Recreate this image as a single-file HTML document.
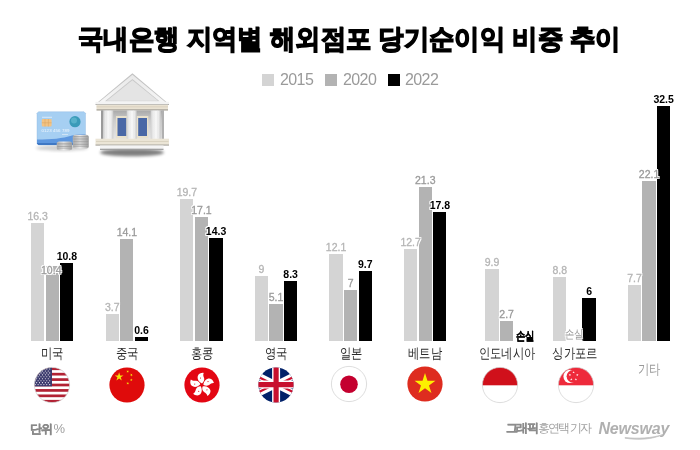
<!DOCTYPE html>
<html><head><meta charset="utf-8"><style>
html,body{margin:0;padding:0;background:#fff;}
body{width:700px;height:450px;position:relative;overflow:hidden;will-change:transform;font-family:"Liberation Sans",sans-serif;}
.b{position:absolute;}
.lb{position:absolute;width:40px;text-align:center;font-size:10.5px;line-height:10.5px;white-space:nowrap;
 text-shadow:-1px -1px 0 #fff,1px -1px 0 #fff,-1px 1px 0 #fff,1px 1px 0 #fff,0 -1px 0 #fff,0 1px 0 #fff,-1px 0 0 #fff,1px 0 0 #fff;}
.l1{color:#b5b5b5;-webkit-text-stroke:0.3px #b5b5b5;} .l2{color:#9a9a9a;-webkit-text-stroke:0.3px #9a9a9a;} .l3{color:#000;font-weight:bold;}
.title{position:absolute;left:78px;top:20.8px;font-size:27px;line-height:36px;font-weight:bold;white-space:nowrap;color:#000;transform-origin:0 0;transform:scaleX(0.94);-webkit-text-stroke:1.4px #000;}
.lg{position:absolute;width:12px;height:12px;top:74px;}
.lgt{position:absolute;top:72px;font-size:16px;line-height:16px;color:#9a9a9a;letter-spacing:-0.6px;}
.cn{position:absolute;top:346px;width:80px;text-align:center;font-size:13.6px;line-height:16px;color:#2a2a2a;white-space:nowrap;transform:scaleX(0.81);transform-origin:50% 50%;}
.loss{position:absolute;font-size:11.5px;line-height:11px;white-space:nowrap;transform:scaleX(0.78);transform-origin:0 0;}
.lossb{-webkit-text-stroke:0.3px #000;}
.lossg{text-shadow:-1px -1px 0 #fff,1px -1px 0 #fff,-1px 1px 0 #fff,1px 1px 0 #fff;}
.flag{position:absolute;}
.ft{position:absolute;font-size:12px;line-height:14px;white-space:nowrap;}
.nw{position:absolute;left:598.5px;top:420px;font-style:italic;font-weight:bold;font-size:16px;line-height:18px;color:#b0b0b0;letter-spacing:-0.2px;}
</style></head><body>
<div class="title" id="title">국내은행 지역별 해외점포 당기순이익 비중 추이</div>
<div class="lg" style="left:262px;background:#d4d4d4"></div><div class="lgt" style="left:280px">2015</div>
<div class="lg" style="left:325px;background:#b3b3b3"></div><div class="lgt" style="left:343px">2020</div>
<div class="lg" style="left:388px;background:#000"></div><div class="lgt" style="left:405px">2022</div>
<div class="b" style="left:31.00px;top:223.15px;width:13.3px;height:117.85px;background:#d4d4d4"></div>
<div class="b" style="left:45.60px;top:265.81px;width:13.3px;height:75.19px;background:#b3b3b3"></div>
<div class="b" style="left:60.20px;top:262.92px;width:13.3px;height:78.08px;background:#000"></div>
<div class="lb l1" style="left:17.65px;top:211.15px">16.3</div>
<div class="lb l2" style="left:31.25px;top:265.00px">10.4</div>
<div class="lb l3" style="left:46.85px;top:250.92px">10.8</div>
<div class="b" style="left:105.60px;top:314.25px;width:13.3px;height:26.75px;background:#d4d4d4"></div>
<div class="b" style="left:120.20px;top:239.06px;width:13.3px;height:101.94px;background:#b3b3b3"></div>
<div class="b" style="left:134.80px;top:336.66px;width:13.3px;height:4.34px;background:#000"></div>
<div class="lb l1" style="left:92.25px;top:302.25px">3.7</div>
<div class="lb l2" style="left:106.85px;top:227.06px">14.1</div>
<div class="lb l3" style="left:121.45px;top:324.66px">0.6</div>
<div class="b" style="left:180.20px;top:198.57px;width:13.3px;height:142.43px;background:#d4d4d4"></div>
<div class="b" style="left:194.80px;top:217.37px;width:13.3px;height:123.63px;background:#b3b3b3"></div>
<div class="b" style="left:209.40px;top:237.61px;width:13.3px;height:103.39px;background:#000"></div>
<div class="lb l1" style="left:166.85px;top:186.57px">19.7</div>
<div class="lb l2" style="left:181.45px;top:205.37px">17.1</div>
<div class="lb l3" style="left:196.05px;top:225.61px">14.3</div>
<div class="b" style="left:254.80px;top:275.93px;width:13.3px;height:65.07px;background:#d4d4d4"></div>
<div class="b" style="left:269.40px;top:304.13px;width:13.3px;height:36.87px;background:#b3b3b3"></div>
<div class="b" style="left:284.00px;top:280.99px;width:13.3px;height:60.01px;background:#000"></div>
<div class="lb l1" style="left:241.45px;top:263.93px">9</div>
<div class="lb l2" style="left:256.05px;top:292.13px">5.1</div>
<div class="lb l3" style="left:270.65px;top:268.99px">8.3</div>
<div class="b" style="left:329.40px;top:253.52px;width:13.3px;height:87.48px;background:#d4d4d4"></div>
<div class="b" style="left:344.00px;top:290.39px;width:13.3px;height:50.61px;background:#b3b3b3"></div>
<div class="b" style="left:358.60px;top:270.87px;width:13.3px;height:70.13px;background:#000"></div>
<div class="lb l1" style="left:316.05px;top:241.52px">12.1</div>
<div class="lb l2" style="left:330.65px;top:278.39px">7</div>
<div class="lb l3" style="left:345.25px;top:258.87px">9.7</div>
<div class="b" style="left:404.00px;top:249.18px;width:13.3px;height:91.82px;background:#d4d4d4"></div>
<div class="b" style="left:418.60px;top:187.00px;width:13.3px;height:154.00px;background:#b3b3b3"></div>
<div class="b" style="left:433.20px;top:212.31px;width:13.3px;height:128.69px;background:#000"></div>
<div class="lb l1" style="left:390.65px;top:237.18px">12.7</div>
<div class="lb l2" style="left:405.25px;top:175.00px">21.3</div>
<div class="lb l3" style="left:419.85px;top:200.31px">17.8</div>
<div class="b" style="left:485.40px;top:269.42px;width:13.3px;height:71.58px;background:#d4d4d4"></div>
<div class="b" style="left:500.00px;top:321.48px;width:13.3px;height:19.52px;background:#b3b3b3"></div>
<div class="lb l1" style="left:472.05px;top:257.42px">9.9</div>
<div class="lb l2" style="left:486.65px;top:309.48px">2.7</div>
<div class="b" style="left:553.20px;top:277.38px;width:13.3px;height:63.62px;background:#d4d4d4"></div>
<div class="b" style="left:582.40px;top:297.62px;width:13.3px;height:43.38px;background:#000"></div>
<div class="lb l1" style="left:539.85px;top:265.38px">8.8</div>
<div class="lb l3" style="left:569.05px;top:285.62px">6</div>
<div class="b" style="left:627.80px;top:285.33px;width:13.3px;height:55.67px;background:#d4d4d4"></div>
<div class="b" style="left:642.40px;top:181.22px;width:13.3px;height:159.78px;background:#b3b3b3"></div>
<div class="b" style="left:657.00px;top:106.02px;width:13.3px;height:234.98px;background:#000"></div>
<div class="lb l1" style="left:614.45px;top:273.33px">7.7</div>
<div class="lb l2" style="left:629.05px;top:169.22px">22.1</div>
<div class="lb l3" style="left:643.65px;top:94.02px">32.5</div>
<div class="cn" style="left:12.30px">미국</div>
<div class="cn" style="left:86.90px">중국</div>
<div class="cn" style="left:161.50px">홍콩</div>
<div class="cn" style="left:236.10px">영국</div>
<div class="cn" style="left:310.70px">일본</div>
<div class="cn" style="left:385.30px">베트남</div>
<div class="cn" style="left:466.60px">인도네시아</div>
<div class="cn" style="left:534.50px">싱가포르</div>
<div class="cn" style="left:609.10px;top:362px;color:#999">기타</div>
<div class="loss lossb" style="left:516px;top:331px;color:#000;font-weight:bold">손실</div>
<div class="loss lossg" style="left:565px;top:328.5px;color:#9a9a9a">손실</div>
<svg class="flag" style="left:32.30px;top:364.60px" width="40" height="40" viewBox="0 0 40 40"><defs><clipPath id="fus"><circle cx="20" cy="20" r="17.6"/></clipPath></defs><g clip-path="url(#fus)"><rect x="0" y="0" width="40" height="40" fill="#fff"/><rect x="0" y="2.40" width="40" height="2.71" fill="#b22234"/><rect x="0" y="7.82" width="40" height="2.71" fill="#b22234"/><rect x="0" y="13.23" width="40" height="2.71" fill="#b22234"/><rect x="0" y="18.65" width="40" height="2.71" fill="#b22234"/><rect x="0" y="24.06" width="40" height="2.71" fill="#b22234"/><rect x="0" y="29.48" width="40" height="2.71" fill="#b22234"/><rect x="0" y="34.89" width="40" height="2.71" fill="#b22234"/><rect x="0" y="0" width="20" height="21.35" fill="#3c3b6e"/><circle cx="3.20" cy="4.00" r="0.55" fill="#fff"/><circle cx="6.10" cy="4.00" r="0.55" fill="#fff"/><circle cx="9.00" cy="4.00" r="0.55" fill="#fff"/><circle cx="11.90" cy="4.00" r="0.55" fill="#fff"/><circle cx="14.80" cy="4.00" r="0.55" fill="#fff"/><circle cx="17.70" cy="4.00" r="0.55" fill="#fff"/><circle cx="4.65" cy="5.95" r="0.55" fill="#fff"/><circle cx="7.55" cy="5.95" r="0.55" fill="#fff"/><circle cx="10.45" cy="5.95" r="0.55" fill="#fff"/><circle cx="13.35" cy="5.95" r="0.55" fill="#fff"/><circle cx="16.25" cy="5.95" r="0.55" fill="#fff"/><circle cx="3.20" cy="7.90" r="0.55" fill="#fff"/><circle cx="6.10" cy="7.90" r="0.55" fill="#fff"/><circle cx="9.00" cy="7.90" r="0.55" fill="#fff"/><circle cx="11.90" cy="7.90" r="0.55" fill="#fff"/><circle cx="14.80" cy="7.90" r="0.55" fill="#fff"/><circle cx="17.70" cy="7.90" r="0.55" fill="#fff"/><circle cx="4.65" cy="9.85" r="0.55" fill="#fff"/><circle cx="7.55" cy="9.85" r="0.55" fill="#fff"/><circle cx="10.45" cy="9.85" r="0.55" fill="#fff"/><circle cx="13.35" cy="9.85" r="0.55" fill="#fff"/><circle cx="16.25" cy="9.85" r="0.55" fill="#fff"/><circle cx="3.20" cy="11.80" r="0.55" fill="#fff"/><circle cx="6.10" cy="11.80" r="0.55" fill="#fff"/><circle cx="9.00" cy="11.80" r="0.55" fill="#fff"/><circle cx="11.90" cy="11.80" r="0.55" fill="#fff"/><circle cx="14.80" cy="11.80" r="0.55" fill="#fff"/><circle cx="17.70" cy="11.80" r="0.55" fill="#fff"/><circle cx="4.65" cy="13.75" r="0.55" fill="#fff"/><circle cx="7.55" cy="13.75" r="0.55" fill="#fff"/><circle cx="10.45" cy="13.75" r="0.55" fill="#fff"/><circle cx="13.35" cy="13.75" r="0.55" fill="#fff"/><circle cx="16.25" cy="13.75" r="0.55" fill="#fff"/><circle cx="3.20" cy="15.70" r="0.55" fill="#fff"/><circle cx="6.10" cy="15.70" r="0.55" fill="#fff"/><circle cx="9.00" cy="15.70" r="0.55" fill="#fff"/><circle cx="11.90" cy="15.70" r="0.55" fill="#fff"/><circle cx="14.80" cy="15.70" r="0.55" fill="#fff"/><circle cx="17.70" cy="15.70" r="0.55" fill="#fff"/><circle cx="4.65" cy="17.65" r="0.55" fill="#fff"/><circle cx="7.55" cy="17.65" r="0.55" fill="#fff"/><circle cx="10.45" cy="17.65" r="0.55" fill="#fff"/><circle cx="13.35" cy="17.65" r="0.55" fill="#fff"/><circle cx="16.25" cy="17.65" r="0.55" fill="#fff"/><circle cx="3.20" cy="19.60" r="0.55" fill="#fff"/><circle cx="6.10" cy="19.60" r="0.55" fill="#fff"/><circle cx="9.00" cy="19.60" r="0.55" fill="#fff"/><circle cx="11.90" cy="19.60" r="0.55" fill="#fff"/><circle cx="14.80" cy="19.60" r="0.55" fill="#fff"/><circle cx="17.70" cy="19.60" r="0.55" fill="#fff"/></g><circle cx="20" cy="20" r="17.6" fill="none" stroke="#cfcfcf" stroke-width="0.7"/></svg>
<svg class="flag" style="left:106.60px;top:364.70px" width="40" height="40" viewBox="0 0 40 40"><defs><clipPath id="fcn"><circle cx="20" cy="20" r="17.6"/></clipPath></defs><g clip-path="url(#fcn)"><rect width="40" height="40" fill="#df0b0b"/><polygon points="12.10,7.20 13.13,10.38 16.47,10.38 13.77,12.34 14.80,15.52 12.10,13.56 9.40,15.52 10.43,12.34 7.73,10.38 11.07,10.38" fill="#f5e10a"/><polygon points="21.21,5.09 21.18,6.18 22.20,6.55 21.15,6.85 21.11,7.94 20.50,7.04 19.46,7.34 20.13,6.48 19.52,5.58 20.54,5.95" fill="#f5e10a"/><polygon points="25.36,8.84 24.87,9.81 25.64,10.58 24.56,10.41 24.07,11.38 23.89,10.31 22.82,10.13 23.79,9.64 23.62,8.56 24.39,9.33" fill="#f5e10a"/><polygon points="24.30,13.40 24.64,14.44 25.73,14.44 24.84,15.08 25.18,16.11 24.30,15.47 23.42,16.11 23.76,15.08 22.87,14.44 23.96,14.44" fill="#f5e10a"/><polygon points="21.21,16.89 21.18,17.98 22.20,18.35 21.15,18.65 21.11,19.74 20.50,18.84 19.46,19.14 20.13,18.28 19.52,17.38 20.54,17.75" fill="#f5e10a"/></g></svg>
<svg class="flag" style="left:181.50px;top:364.70px" width="40" height="40" viewBox="0 0 40 40"><defs><clipPath id="fhk"><circle cx="20" cy="20" r="17.6"/></clipPath></defs><g clip-path="url(#fhk)"><rect width="40" height="40" fill="#e30613"/><path d="M0.2,-1.6 C-3.2,-3 -4.9,-6.5 -3.9,-9.3 C-2.9,-11.5 -0.3,-12.4 1.9,-12.1 C1.1,-10.7 1.5,-8.7 2.3,-6.9 C2.9,-4.7 1.8,-2.6 0.2,-1.6 Z" transform="translate(19.8,20) rotate(0)" fill="#fff"/><circle cx="-1.3" cy="-7" r="0.55" fill="#e30613" transform="translate(19.8,20) rotate(0)"/><path d="M0.2,-1.6 C-3.2,-3 -4.9,-6.5 -3.9,-9.3 C-2.9,-11.5 -0.3,-12.4 1.9,-12.1 C1.1,-10.7 1.5,-8.7 2.3,-6.9 C2.9,-4.7 1.8,-2.6 0.2,-1.6 Z" transform="translate(19.8,20) rotate(72)" fill="#fff"/><circle cx="-1.3" cy="-7" r="0.55" fill="#e30613" transform="translate(19.8,20) rotate(72)"/><path d="M0.2,-1.6 C-3.2,-3 -4.9,-6.5 -3.9,-9.3 C-2.9,-11.5 -0.3,-12.4 1.9,-12.1 C1.1,-10.7 1.5,-8.7 2.3,-6.9 C2.9,-4.7 1.8,-2.6 0.2,-1.6 Z" transform="translate(19.8,20) rotate(144)" fill="#fff"/><circle cx="-1.3" cy="-7" r="0.55" fill="#e30613" transform="translate(19.8,20) rotate(144)"/><path d="M0.2,-1.6 C-3.2,-3 -4.9,-6.5 -3.9,-9.3 C-2.9,-11.5 -0.3,-12.4 1.9,-12.1 C1.1,-10.7 1.5,-8.7 2.3,-6.9 C2.9,-4.7 1.8,-2.6 0.2,-1.6 Z" transform="translate(19.8,20) rotate(216)" fill="#fff"/><circle cx="-1.3" cy="-7" r="0.55" fill="#e30613" transform="translate(19.8,20) rotate(216)"/><path d="M0.2,-1.6 C-3.2,-3 -4.9,-6.5 -3.9,-9.3 C-2.9,-11.5 -0.3,-12.4 1.9,-12.1 C1.1,-10.7 1.5,-8.7 2.3,-6.9 C2.9,-4.7 1.8,-2.6 0.2,-1.6 Z" transform="translate(19.8,20) rotate(288)" fill="#fff"/><circle cx="-1.3" cy="-7" r="0.55" fill="#e30613" transform="translate(19.8,20) rotate(288)"/></g></svg>
<svg class="flag" style="left:255.50px;top:364.70px" width="40" height="40" viewBox="0 0 40 40"><defs><clipPath id="fuk"><circle cx="20" cy="20" r="17.6"/></clipPath></defs><g clip-path="url(#fuk)"><rect width="40" height="40" fill="#012169"/><path d="M-15,2.1 L55,37.1 M-15,37.1 L55,2.1" stroke="#fff" stroke-width="6.5"/><path d="M-15,3.3 L20,20.8 M55,35.9 L20,18.4 M-15,35.9 L20,18.4 M55,3.3 L20,20.8" stroke="#c8102e" stroke-width="2.2"/><path d="M20.1,-5 V45 M-5,19.6 H45" stroke="#fff" stroke-width="8"/><path d="M20.1,-5 V45 M-5,19.6 H45" stroke="#c8102e" stroke-width="5.2"/></g></svg>
<svg class="flag" style="left:329.10px;top:364.40px" width="40" height="40" viewBox="0 0 40 40"><defs><clipPath id="fjp"><circle cx="20" cy="20" r="17.6"/></clipPath></defs><g clip-path="url(#fjp)"><rect width="40" height="40" fill="#fff"/><circle cx="20" cy="20.3" r="8.8" fill="#c4002f"/></g><circle cx="20" cy="20" r="17.6" fill="none" stroke="#cfcfcf" stroke-width="0.7"/></svg>
<svg class="flag" style="left:405.00px;top:364.30px" width="40" height="40" viewBox="0 0 40 40"><defs><clipPath id="fvn"><circle cx="20" cy="20" r="17.6"/></clipPath></defs><g clip-path="url(#fvn)"><rect width="40" height="40" fill="#de2c1f"/><polygon points="20.00,9.10 22.47,16.70 30.46,16.70 24.00,21.40 26.47,29.00 20.00,24.30 13.53,29.00 16.00,21.40 9.54,16.70 17.53,16.70" fill="#fdf000"/></g></svg>
<svg class="flag" style="left:480.00px;top:364.70px" width="40" height="40" viewBox="0 0 40 40"><defs><clipPath id="fid"><circle cx="20" cy="20" r="17.6"/></clipPath></defs><g clip-path="url(#fid)"><rect width="40" height="40" fill="#fff"/><rect width="40" height="20.3" fill="#d0101b"/></g><circle cx="20" cy="20" r="17.6" fill="none" stroke="#cfcfcf" stroke-width="0.7"/></svg>
<svg class="flag" style="left:555.50px;top:364.50px" width="40" height="40" viewBox="0 0 40 40"><defs><clipPath id="fsg"><circle cx="20" cy="20" r="17.6"/></clipPath></defs><g clip-path="url(#fsg)"><rect width="40" height="40" fill="#fff"/><rect width="40" height="20.3" fill="#ee2a3b"/><circle cx="14.1" cy="11.4" r="6.7" fill="#fff"/><circle cx="16.9" cy="11.35" r="6.3" fill="#ee2a3b"/><polygon points="17.60,6.00 17.89,6.90 18.84,6.90 18.07,7.45 18.36,8.35 17.60,7.80 16.84,8.35 17.13,7.45 16.36,6.90 17.31,6.90" fill="#fff"/><polygon points="21.31,8.69 21.60,9.59 22.55,9.59 21.78,10.15 22.07,11.05 21.31,10.49 20.54,11.05 20.84,10.15 20.07,9.59 21.02,9.59" fill="#fff"/><polygon points="19.89,13.06 20.18,13.95 21.13,13.95 20.36,14.51 20.66,15.41 19.89,14.85 19.13,15.41 19.42,14.51 18.66,13.95 19.60,13.95" fill="#fff"/><polygon points="15.31,13.06 15.60,13.95 16.54,13.95 15.78,14.51 16.07,15.41 15.31,14.85 14.54,15.41 14.84,14.51 14.07,13.95 15.02,13.95" fill="#fff"/><polygon points="13.89,8.69 14.18,9.59 15.13,9.59 14.36,10.15 14.66,11.05 13.89,10.49 13.13,11.05 13.42,10.15 12.65,9.59 13.60,9.59" fill="#fff"/></g><circle cx="20" cy="20" r="17.6" fill="none" stroke="#cfcfcf" stroke-width="0.7"/></svg>
<svg style="position:absolute;left:30px;top:100px" width="64" height="56" viewBox="30 100 64 56"><defs><filter id="blur1" x="-20%" y="-20%" width="140%" height="140%"><feGaussianBlur stdDeviation="1.6"/></filter><linearGradient id="coin" x1="0" y1="0" x2="1" y2="0"><stop offset="0" stop-color="#b5b5b5"/><stop offset="0.45" stop-color="#ececec"/><stop offset="1" stop-color="#a5a5a5"/></linearGradient></defs><ellipse cx="62" cy="148" rx="26" ry="3" fill="#000" opacity="0.18" filter="url(#blur1)"/><path d="M38.5,111.7 H84 L85.5,113.2 V143.5 L84,145 H38.5 L37,143.5 V113.2 Z" fill="#a6cff2" stroke="#8fb8e0" stroke-width="0.4"/><path d="M37,139.5 C52,139.5 62,138.5 72,135.5 C78,134 82,134 85.5,134.5 V143.5 L84,145 H38.5 L37,143.5 Z" fill="#5d97df"/><path d="M37,143 H85.5 V143.5 L84,145 H38.5 L37,143.5 Z" fill="#3f78c4"/><rect x="41.8" y="119" width="9.8" height="7.6" rx="1" fill="#f2c384"/><path d="M45,119 V126.6 M48.4,119 V126.6 M41.8,122.8 H51.6" stroke="#d9a35f" stroke-width="0.5"/><rect x="42" y="116.8" width="10" height="0.8" fill="#e6f1fb"/><circle cx="75" cy="121.7" r="5.6" fill="#3b9bb9"/><circle cx="74" cy="120.5" r="3" fill="#6cc0d6" opacity="0.6"/><text x="41.5" y="131.8" font-family="Liberation Sans" font-size="4.4" fill="#f2f8fd" letter-spacing="0.1">0123 456 789</text><rect x="62" y="134" width="6" height="0.8" fill="#dbe9f7"/><rect x="56.7" y="141.6" width="15.5" height="8.6" rx="2.5" fill="url(#coin)"/><path d="M57.2,143.3 H71.7" stroke="#8a8a8a" stroke-width="0.6"/><path d="M57.2,144.9 H71.7" stroke="#8a8a8a" stroke-width="0.6"/><path d="M57.2,146.5 H71.7" stroke="#8a8a8a" stroke-width="0.6"/><path d="M57.2,148.1 H71.7" stroke="#8a8a8a" stroke-width="0.6"/><rect x="72.8" y="134.8" width="16" height="13.8" rx="2.5" fill="url(#coin)"/><path d="M73.3,136.6 H88.3" stroke="#8a8a8a" stroke-width="0.6"/><path d="M73.3,138.2 H88.3" stroke="#8a8a8a" stroke-width="0.6"/><path d="M73.3,139.8 H88.3" stroke="#8a8a8a" stroke-width="0.6"/><path d="M73.3,141.4 H88.3" stroke="#8a8a8a" stroke-width="0.6"/><path d="M73.3,143.0 H88.3" stroke="#8a8a8a" stroke-width="0.6"/><path d="M73.3,144.6 H88.3" stroke="#8a8a8a" stroke-width="0.6"/><path d="M73.3,146.2 H88.3" stroke="#8a8a8a" stroke-width="0.6"/></svg>
<svg style="position:absolute;left:90px;top:66px" width="84" height="94" viewBox="90 66 84 94"><defs><filter id="blur2" x="-20%" y="-50%" width="140%" height="200%"><feGaussianBlur stdDeviation="1.8"/></filter><linearGradient id="col" x1="0" y1="0" x2="1" y2="0"><stop offset="0" stop-color="#cfcfcf"/><stop offset="0.3" stop-color="#f4f4f4"/><stop offset="0.7" stop-color="#f7f7f7"/><stop offset="1" stop-color="#c9c9c9"/></linearGradient><linearGradient id="wall" x1="0" y1="0" x2="0" y2="1"><stop offset="0" stop-color="#a9a9a9"/><stop offset="0.35" stop-color="#cdcdcd"/><stop offset="1" stop-color="#e6e6e6"/></linearGradient><linearGradient id="roof" x1="0" y1="0" x2="0" y2="1"><stop offset="0" stop-color="#e9e9e9"/><stop offset="1" stop-color="#f6f6f6"/></linearGradient></defs><ellipse cx="132" cy="152.5" rx="32" ry="3.8" fill="#000" opacity="0.5" filter="url(#blur2)"/><path d="M132.4,73.3 L168.5,103.8 H96 Z" fill="#c2c2c2"/><path d="M132.4,74.8 L166.5,103 H98 Z" fill="url(#roof)"/><path d="M132.4,79 L159.5,101.3 H105 Z" fill="#c9c9c9"/><path d="M132.4,80.3 L158,100.8 H106.8 Z" fill="#e4e4e4"/><rect x="95.5" y="101.8" width="73.5" height="2.4" fill="#f3f3f3"/><rect x="95.5" y="104" width="73.5" height="0.7" fill="#8f8f8f"/><rect x="96.5" y="104.7" width="71.5" height="4.6" fill="#e9e2d2"/><rect x="96.5" y="106.6" width="71.5" height="0.6" fill="#cfc6b2"/><rect x="96.5" y="109.3" width="71.5" height="1.2" fill="#9d978a"/><rect x="101" y="110.5" width="63" height="29" fill="url(#wall)"/><rect x="101" y="110.5" width="2.2" height="29" fill="#9a9a9a"/><rect x="161.8" y="110.5" width="2.2" height="29" fill="#b0b0b0"/><rect x="116" y="116" width="11.6" height="22.4" fill="#e9e1cc"/><rect x="117.5" y="118" width="8.8" height="18" fill="#4a68a6"/><rect x="136.7" y="116" width="11.6" height="22.4" fill="#e9e1cc"/><rect x="138.2" y="118" width="8.8" height="18" fill="#4a68a6"/><rect x="103.3" y="110.5" width="10" height="28.5" fill="url(#col)"/><path d="M106.6,111 V138.5 M110.0,111 V138.5" stroke="#dedede" stroke-width="0.5"/><rect x="126.7" y="110.5" width="10" height="28.5" fill="url(#col)"/><path d="M130.0,111 V138.5 M133.4,111 V138.5" stroke="#dedede" stroke-width="0.5"/><rect x="150.7" y="110.5" width="10" height="28.5" fill="url(#col)"/><path d="M154.0,111 V138.5 M157.39999999999998,111 V138.5" stroke="#dedede" stroke-width="0.5"/><rect x="95.5" y="138.7" width="73.5" height="6" fill="#ebe5d6"/><rect x="96" y="141" width="72.5" height="0.6" fill="#cfc6b2"/><rect x="95.5" y="144.6" width="73.5" height="0.9" fill="#8f8a80"/><rect x="100" y="145.5" width="63.5" height="3.3" fill="#f4f4f4"/><rect x="100" y="148.7" width="63.5" height="1.2" fill="#9b9b9b"/></svg>
<div class="ft" style="left:30.3px;top:422px;font-weight:bold;color:#888;letter-spacing:-1.6px;-webkit-text-stroke:0.35px #888">단위</div><div class="ft" style="left:53.5px;top:422px;color:#a0a0a0;font-size:13px">%</div>
<div class="ft" style="left:506px;top:421px;font-weight:bold;color:#8d8d8d;letter-spacing:-1.7px;-webkit-text-stroke:0.3px #8d8d8d">그래픽</div><div class="ft" style="left:538px;top:421px;color:#a0a0a0;letter-spacing:-1.9px">홍연택 기자</div>
<div class="nw">Newsway</div>
<svg style="position:absolute;left:620px;top:430px" width="50" height="14" viewBox="620 430 50 14"><path d="M625,438.2 C638,440.2 652,439.6 663,434.5 C652,438.3 638,438.8 625,437.6 Z" fill="#bdbdbd" stroke="#c4c4c4" stroke-width="0.8"/></svg>
</body></html>
